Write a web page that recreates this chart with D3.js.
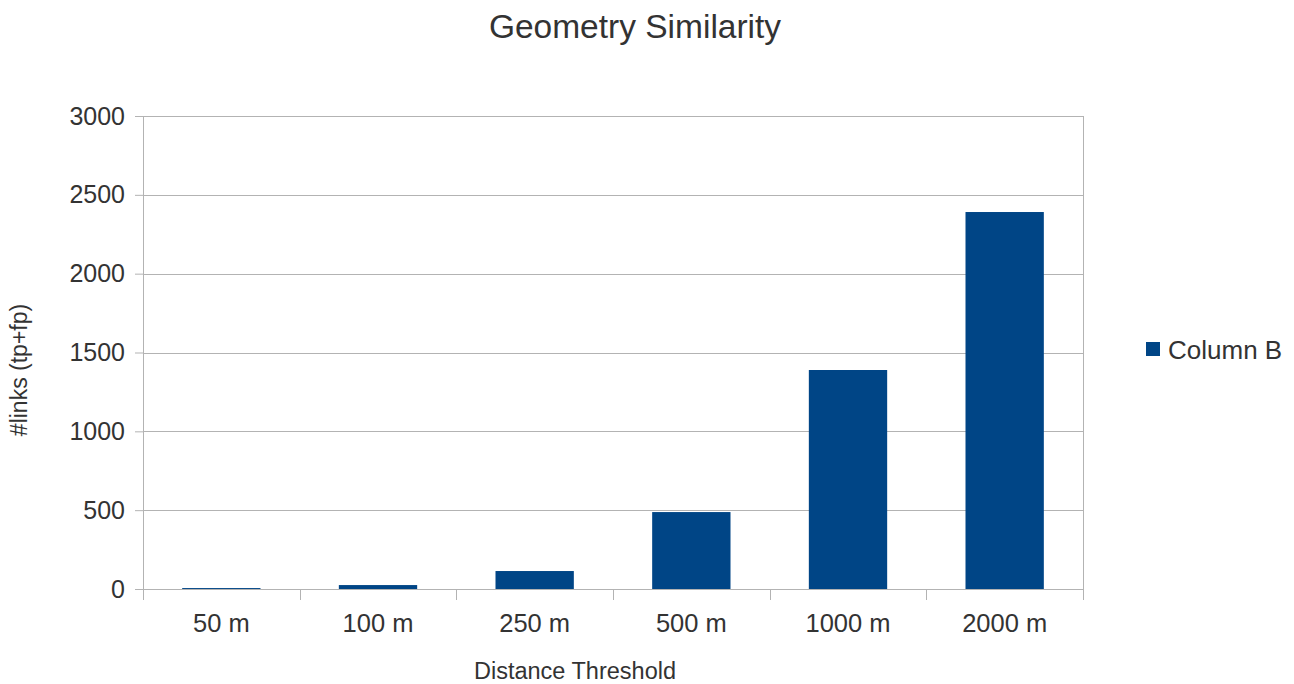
<!DOCTYPE html>
<html>
<head>
<meta charset="utf-8">
<script src="https://cdn.jsdelivr.net/npm/d3@7"></script>
<style>
  body { margin: 0; background: #fff; }
  svg { font-family: "Liberation Sans", Arial, sans-serif; }
</style>
</head>
<body>
<div id="chart"></div>
<script>
// data
const categories = ["50 m", "100 m", "250 m", "500 m", "1000 m", "2000 m"];
const values = [6, 25, 114, 488, 1389, 2391];
const yTicks = [0, 500, 1000, 1500, 2000, 2500, 3000];
const seriesName = "Column B";

const WIDTH = 1294;
const HEIGHT = 684;
const MARGIN = { top: 116, right: 211, bottom: 95, left: 143 };
const innerW = WIDTH - MARGIN.left - MARGIN.right;
const innerH = HEIGHT - MARGIN.top - MARGIN.bottom;
const BAR_COLOR = "#004586";
const GRID = "#b3b3b3";
const TEXT = "#333333";

const svg = d3.select("#chart").append("svg")
  .attr("width", WIDTH)
  .attr("height", HEIGHT);

const g = svg.append("g")
  .attr("transform", `translate(${MARGIN.left},${MARGIN.top})`);

const x = d3.scaleBand().domain(categories).range([0, innerW]).paddingInner(0.5).paddingOuter(0.25);
const y = d3.scaleLinear().domain([0, 3000]).range([innerH, 0]);

// grid lines
g.append("g")
  .selectAll("line")
  .data(yTicks)
  .join("line")
  .attr("x1", 0)
  .attr("x2", innerW)
  .attr("y1", (d) => Math.round(y(d)) + 0.5)
  .attr("y2", (d) => Math.round(y(d)) + 0.5)
  .attr("stroke", GRID);

// right border
g.append("line")
  .attr("x1", innerW + 0.5).attr("x2", innerW + 0.5)
  .attr("y1", 0).attr("y2", innerH)
  .attr("stroke", GRID);

// bars
g.append("g")
  .selectAll("rect")
  .data(values)
  .join("rect")
  .attr("x", (d, i) => x(categories[i]))
  .attr("width", x.bandwidth())
  .attr("y", (d) => y(d))
  .attr("height", (d) => innerH - y(d))
  .attr("fill", BAR_COLOR);

// y axis
const yAxis = g.append("g")
  .call(d3.axisLeft(y).tickValues(yTicks).tickSize(8).tickPadding(10).tickFormat(d3.format("d")));
yAxis.select(".domain").attr("stroke", GRID).attr("d", `M0.5,0V${innerH}`);
yAxis.selectAll(".tick line").attr("stroke", GRID);
yAxis.selectAll(".tick text")
  .attr("font-size", 25)
  .attr("fill", TEXT);

// x axis: ticks at category boundaries
const step = innerW / categories.length;
const xAxis = g.append("g").attr("transform", `translate(0,${innerH})`);
xAxis.append("line")
  .attr("x1", -8).attr("x2", innerW)
  .attr("y1", 0.5).attr("y2", 0.5)
  .attr("stroke", GRID);
xAxis.selectAll(".xtick")
  .data(d3.range(categories.length + 1))
  .join("line")
  .attr("class", "xtick")
  .attr("x1", (d) => Math.round(d * step) + 0.5)
  .attr("x2", (d) => Math.round(d * step) + 0.5)
  .attr("y1", 0)
  .attr("y2", 11)
  .attr("stroke", GRID);
xAxis.selectAll(".xlabel")
  .data(categories)
  .join("text")
  .attr("class", "xlabel")
  .attr("x", (d) => x(d) + x.bandwidth() / 2)
  .attr("y", 43)
  .attr("text-anchor", "middle")
  .attr("font-size", 25.5)
  .attr("fill", TEXT)
  .text((d) => d);

// title
svg.append("text")
  .attr("x", 635)
  .attr("y", 38)
  .attr("text-anchor", "middle")
  .attr("font-size", 33.5)
  .attr("fill", TEXT)
  .text("Geometry Similarity");

// axis titles
svg.append("text")
  .attr("x", 575)
  .attr("y", 679)
  .attr("text-anchor", "middle")
  .attr("font-size", 23.5)
  .attr("fill", TEXT)
  .text("Distance Threshold");

svg.append("text")
  .attr("transform", "translate(27, 370) rotate(-90)")
  .attr("text-anchor", "middle")
  .attr("font-size", 23)
  .attr("fill", TEXT)
  .text("#links (tp+fp)");

// legend
const legend = svg.append("g").attr("transform", "translate(1146, 342)");
legend.append("rect")
  .attr("width", 14).attr("height", 14)
  .attr("fill", BAR_COLOR);
legend.append("text")
  .attr("x", 22)
  .attr("y", 17)
  .attr("font-size", 26)
  .attr("fill", TEXT)
  .text(seriesName);
</script>
</body>
</html>
